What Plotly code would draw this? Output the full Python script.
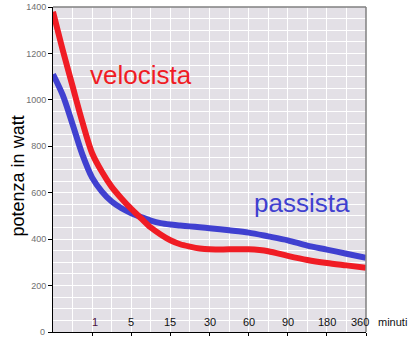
import plotly.graph_objects as go

# sample positions along the category axis (0 = start, 1..8 = labelled minutes)
pos = [0, 0.25, 0.5, 0.75, 1, 1.25, 1.5, 1.75, 2, 2.25, 2.5, 2.75, 3, 3.25, 3.5, 3.75,
       4, 4.5, 5, 5.5, 6, 6.5, 7, 7.5, 8]
velocista = [1380, 1214, 1059, 905, 770, 690, 625, 575, 530, 490, 450, 420, 395, 378, 368, 360,
             356, 356, 356, 348, 328, 310, 297, 287, 277]
passista = [1110, 1020, 895, 765, 665, 605, 562, 533, 512, 495, 480, 469, 463, 459, 455, 451,
            447, 438, 428, 412, 395, 372, 355, 337, 320]

tick_pos = [1, 2, 3, 4, 5, 6, 7, 8]
tick_labels = ["1", "5", "15", "30", "60", "90", "180", "360"]

fig = go.Figure()
fig.add_trace(go.Scatter(x=pos, y=passista, mode="lines",
                         line=dict(color="#4040d0", width=6, shape="spline", smoothing=0.8),
                         showlegend=False))
fig.add_trace(go.Scatter(x=pos, y=velocista, mode="lines",
                         line=dict(color="#f01c24", width=6, shape="spline", smoothing=0.8),
                         showlegend=False))

annotations = []
for i, (p, lab) in enumerate(zip(tick_pos, tick_labels)):
    annotations.append(dict(
        text=lab, x=p, y=(335 - 325) / 328, xref="x", yref="paper", showarrow=False,
        font=dict(size=11, color="#4a1040" if i == 0 else "#111111"),
        xanchor="center", yanchor="middle",
        xshift=3 if i == 0 else (-6 if i == len(tick_pos) - 1 else 0)))

annotations += [
    dict(text="0", x=0, y=0, xref="paper", yref="y", showarrow=False,
         font=dict(size=9, color="#707070"), xanchor="right", yanchor="middle", xshift=-6),
    dict(text="velocista", x=(141 - 53) / 313, y=(335 - 76) / 328, xref="paper", yref="paper",
         showarrow=False, font=dict(size=26, color="#f01c24"),
         xanchor="center", yanchor="middle"),
    dict(text="passista", x=(302 - 53) / 313, y=(335 - 205) / 328, xref="paper", yref="paper",
         showarrow=False, font=dict(size=26, color="#4040d0"),
         xanchor="center", yanchor="middle"),
    dict(text="potenza in watt", x=(18 - 53) / 313, y=(335 - 178) / 328,
         xref="paper", yref="paper", showarrow=False, textangle=-90,
         font=dict(size=18, color="black"), xanchor="center", yanchor="middle"),
    dict(text="minuti", x=(376 - 53) / 313, y=(335 - 325) / 328,
         xref="paper", yref="paper", showarrow=False,
         font=dict(size=11, color="#111111"), xanchor="left", yanchor="middle"),
]

fig.update_layout(
    width=409, height=337,
    margin=dict(l=53, r=43, t=7, b=2),
    paper_bgcolor="white",
    plot_bgcolor="#e3e0e6",
    font=dict(family="Liberation Sans, Arial, sans-serif"),
    xaxis=dict(range=[0, 8], tickvals=tick_pos, showticklabels=False,
               ticks="outside", ticklen=3, tickcolor="black",
               showline=True, linecolor="black", linewidth=1,
               showgrid=True, gridcolor="white", gridwidth=1,
               minor=dict(dtick=0.5, tick0=0, showgrid=True, gridcolor="white", gridwidth=1),
               zeroline=False, fixedrange=True),
    yaxis=dict(range=[0, 1400], dtick=200, tick0=0,
               ticks="outside", ticklen=4, tickcolor="black",
               tickfont=dict(size=9, color="#707070"),
               showline=True, linecolor="black", linewidth=1,
               showgrid=True, gridcolor="white", gridwidth=1,
               minor=dict(dtick=50, tick0=0, showgrid=True, gridcolor="white", gridwidth=1),
               zeroline=False, fixedrange=True),
    shapes=[
        dict(type="line", xref="paper", yref="paper", x0=0, x1=1, y0=1, y1=1,
             line=dict(color="#808080", width=1.5)),
        dict(type="line", xref="paper", yref="paper", x0=1, x1=1, y0=0, y1=1,
             line=dict(color="#808080", width=1.5)),
    ],
    annotations=annotations,
)

fig.write_html("out.html")
